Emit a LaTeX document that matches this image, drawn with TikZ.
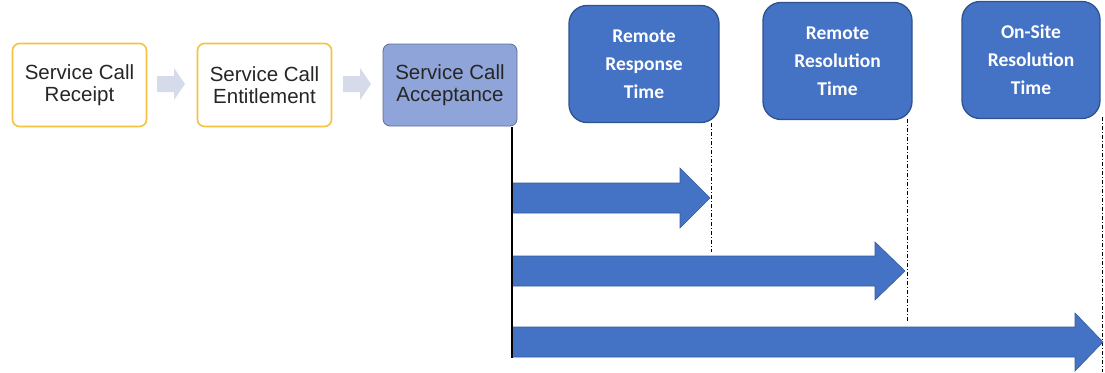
\documentclass[tikz,border=0pt]{standalone}
\usepackage{fontspec}
\setmainfont{Liberation Sans}
\newfontfamily\calfont{Carlito}
\definecolor{yel}{HTML}{F5C242}
\definecolor{txt}{HTML}{262626}
\definecolor{accfill}{HTML}{8FA4D8}
\definecolor{accdraw}{HTML}{5E6E96}
\definecolor{bluefill}{HTML}{4472C4}
\definecolor{bluedraw}{HTML}{2F528F}
\definecolor{chev}{HTML}{D5DBEA}
\tikzset{
  stagebox/.style={draw=yel, line width=1.6pt, fill=white, rounded corners=7pt,
    minimum width=134pt, minimum height=83pt, align=center, text=txt,
    font=\fontsize{20.5}{22}\selectfont, inner sep=0pt},
  accbox/.style={stagebox, draw=accdraw, line width=0.8pt, fill=accfill},
  timebox/.style={draw=bluedraw, line width=1.3pt, fill=bluefill, rounded corners=18pt,
    minimum height=117pt, align=center, text=white,
    font=\calfont\bfseries\fontsize{19.5}{28}\selectfont, inner sep=0pt},
  chevarrow/.style={fill=chev},
  bigarrow/.style={fill=bluefill, draw=bluedraw!70!bluefill, line width=0.6pt},
  guide/.style={black, line width=0.8pt, dash pattern=on 4pt off 2pt on 1pt off 2pt},
}
\begin{document}
\begin{tikzpicture}[x=1pt,y=-1pt]
\useasboundingbox (0,0) rectangle (1105,372);
% stage boxes
\node[stagebox] (rec) at (79.5,85) {Service Call\\Receipt};
\node[stagebox] (ent) at (264.5,85) {Service Call\\Entitlement};
\node[accbox, minimum height=82pt] (acc) at (450,85) {Service Call\\Acceptance};
% small chevron arrows
\fill[chevarrow] (157,76) -- (174,76) -- (174,68) -- (185,84) -- (174,100) -- (174,92) -- (157,92) -- cycle;
\fill[chevarrow] (343,76) -- (360,76) -- (360,68) -- (371,84) -- (360,100) -- (360,92) -- (343,92) -- cycle;
% time boxes
\node[timebox, minimum width=150pt] (rrt) at (644,64) {Remote\\Response\\Time};
\node[timebox, minimum width=149pt] (rst) at (837.5,61) {Remote\\Resolution\\Time};
\node[timebox, minimum width=138pt] (ost) at (1031,60) {On-Site\\Resolution\\Time};
% coordinates
\coordinate (vtop) at (512,127);
\coordinate (vbot) at (512,358);
\coordinate (g1top) at (711,123);
\coordinate (g1bot) at (711,252);
\coordinate (g2top) at (907,119);
\coordinate (g2bot) at (907,322);
\coordinate (g3top) at (1102,117);
\coordinate (g3bot) at (1102,372);
% guide lines
\draw[guide] (g1top) -- (g1bot);
\draw[guide] (g2top) -- (g2bot);
\draw[guide] (g3top) -- (g3bot);
% big arrows
\filldraw[bigarrow] (512,183) -- (680,183) -- (680,168) -- (710,198) -- (680,228) -- (680,213) -- (512,213) -- cycle;
\filldraw[bigarrow] (512,256) -- (875,256) -- (875,242) -- (905,271) -- (875,300) -- (875,286) -- (512,286) -- cycle;
\filldraw[bigarrow] (512,327) -- (1075,327) -- (1075,313) -- (1103,342) -- (1075,371) -- (1075,357) -- (512,357) -- cycle;
% start line
\draw[black, line width=2pt] (vtop) -- (vbot);
\end{tikzpicture}
\end{document}
